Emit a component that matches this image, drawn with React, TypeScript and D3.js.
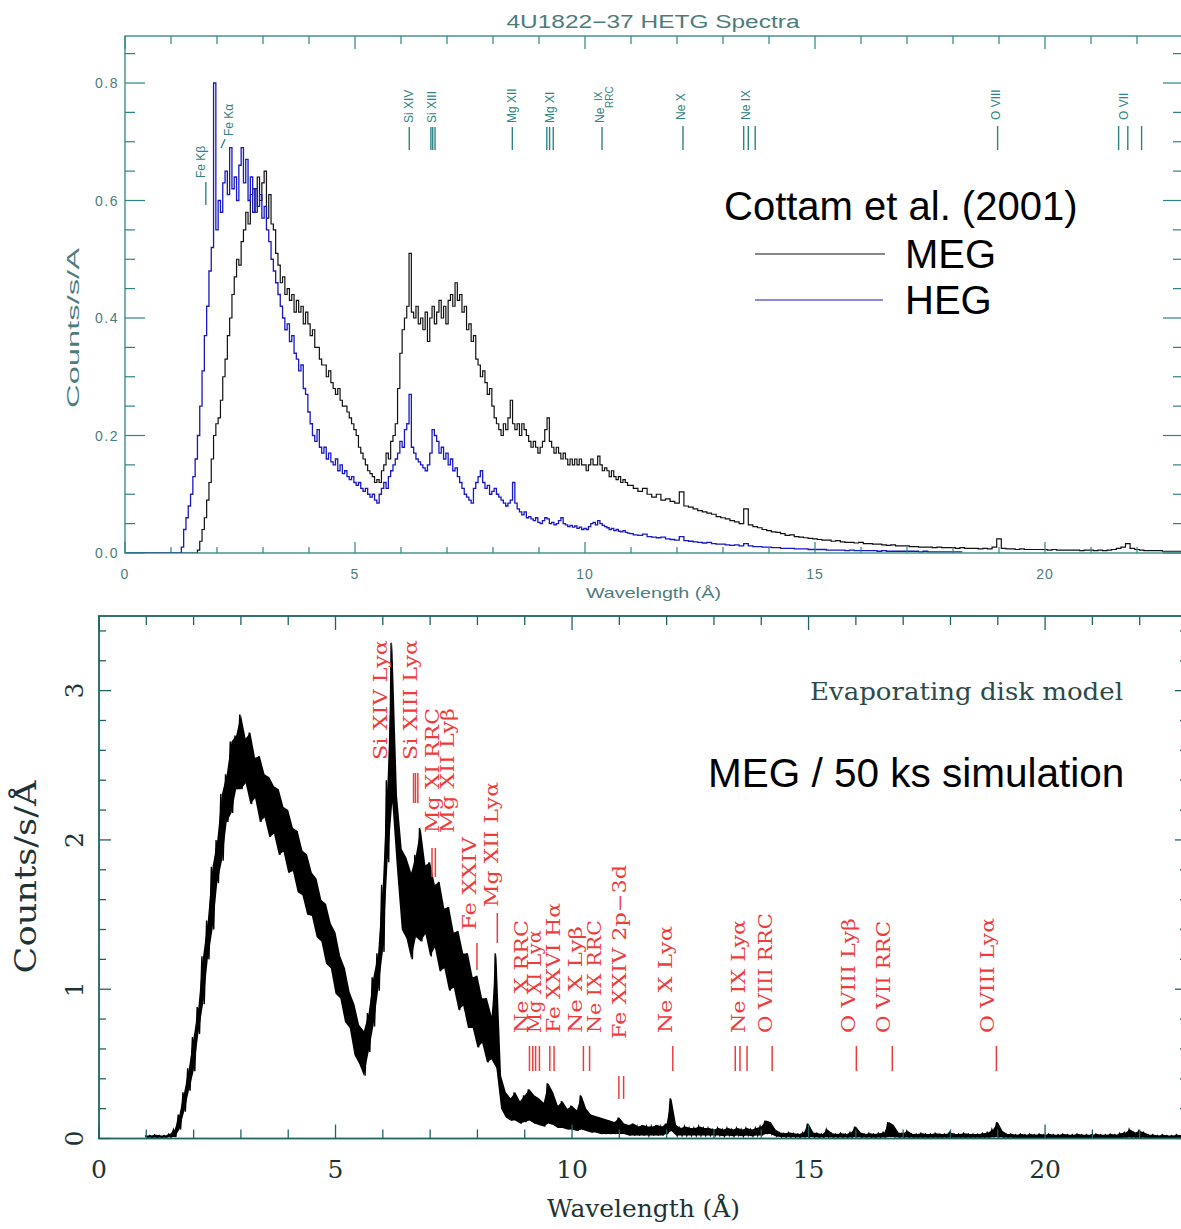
import React from "react";
import * as d3 from "d3";

// ---------- HETG spectra (upper panel) ----------
// Fine bins 1.00–10.95 Å (0.05 Å), coarse bins 11.0–23.0 Å (0.1 Å)
const FINE_START = 1.0;
const FINE_STEP = 0.05;
const TAIL_START = 11.0;
const TAIL_STEP = 0.1;

const megFine = [
  0, 0, 0, 0, 0, 0, 0, 0, 0, 0,
  0, 0, 0.005, 0.02, 0.04, 0.06, 0.09, 0.12, 0.16, 0.2,
  0.22, 0.23, 0.26, 0.3, 0.33, 0.37, 0.4, 0.44, 0.47, 0.5,
  0.49, 0.53, 0.55, 0.58, 0.56, 0.61, 0.62, 0.58, 0.64, 0.6,
  0.63, 0.65, 0.57, 0.61, 0.56, 0.55, 0.51, 0.49, 0.46, 0.47,
  0.44, 0.45, 0.43, 0.44, 0.41, 0.43, 0.41, 0.42, 0.39, 0.41,
  0.39, 0.37, 0.38, 0.35, 0.35, 0.33, 0.32, 0.32, 0.3, 0.31,
  0.29, 0.28, 0.27, 0.28, 0.26, 0.25, 0.25, 0.24, 0.23, 0.22,
  0.21, 0.2, 0.18, 0.17, 0.16, 0.15, 0.14, 0.135, 0.13, 0.12,
  0.125, 0.12, 0.14, 0.15, 0.17, 0.16, 0.19, 0.2, 0.22, 0.28,
  0.34, 0.38, 0.4, 0.42, 0.51, 0.41, 0.4, 0.42, 0.39, 0.4,
  0.38, 0.41, 0.36, 0.4, 0.42, 0.39, 0.41, 0.43, 0.4, 0.42,
  0.39, 0.43, 0.44, 0.42, 0.46, 0.43, 0.44, 0.41, 0.42, 0.38,
  0.39, 0.36, 0.37, 0.33, 0.32, 0.3, 0.31, 0.29, 0.27, 0.28,
  0.25, 0.23, 0.22, 0.21, 0.2, 0.22, 0.21, 0.23, 0.26, 0.22,
  0.21, 0.22, 0.2, 0.22, 0.21, 0.2, 0.19, 0.18, 0.19, 0.18,
  0.17, 0.18, 0.19, 0.21, 0.23, 0.19, 0.18, 0.17, 0.18, 0.17,
  0.16, 0.17, 0.16, 0.15, 0.16, 0.15, 0.16, 0.15, 0.16, 0.15,
  0.15, 0.14, 0.15, 0.16, 0.15, 0.15, 0.165, 0.15, 0.14, 0.145,
  0.14, 0.13, 0.14, 0.13, 0.125, 0.13, 0.12, 0.125, 0.12, 0.115,
];

const megTail = [
  0.115, 0.11, 0.105, 0.11, 0.1, 0.095, 0.1, 0.09, 0.092, 0.088,
  0.085, 0.104, 0.08, 0.078, 0.075, 0.072, 0.07, 0.068, 0.066, 0.062,
  0.06, 0.058, 0.055, 0.053, 0.05, 0.075, 0.048, 0.045, 0.043, 0.04,
  0.038, 0.036, 0.035, 0.033, 0.03, 0.031, 0.028, 0.027, 0.026, 0.025,
  0.024, 0.023, 0.022, 0.022, 0.02, 0.021, 0.019, 0.018, 0.018, 0.017,
  0.018, 0.016, 0.016, 0.015, 0.015, 0.014, 0.013, 0.014, 0.012, 0.012,
  0.012, 0.011, 0.011, 0.01, 0.01, 0.01, 0.009, 0.01, 0.009, 0.009,
  0.009, 0.008, 0.009, 0.008, 0.008, 0.008, 0.007, 0.008, 0.007, 0.01,
  0.024, 0.008, 0.007, 0.007, 0.006, 0.007, 0.006, 0.006, 0.006, 0.006,
  0.006, 0.005, 0.006, 0.005, 0.005, 0.005, 0.005, 0.005, 0.004, 0.005,
  0.005, 0.004, 0.005, 0.004, 0.005, 0.006, 0.008, 0.01, 0.016, 0.008,
  0.006, 0.005, 0.004, 0.004, 0.004, 0.004, 0.003, 0.003, 0.003, 0.003, 0.003,
];

const hegFine = [
  0, 0, 0, 0, 0, 0.01, 0.04, 0.06, 0.08, 0.1,
  0.13, 0.16, 0.2, 0.25, 0.31, 0.37, 0.42, 0.48, 0.52, 0.8,
  0.55, 0.6, 0.58, 0.63, 0.65, 0.61, 0.69, 0.62, 0.64, 0.6,
  0.66, 0.69, 0.63, 0.67, 0.6, 0.64, 0.58, 0.62, 0.59, 0.61,
  0.57, 0.59, 0.55, 0.53, 0.5, 0.48, 0.46, 0.44, 0.42, 0.4,
  0.38, 0.39, 0.36, 0.37, 0.34, 0.33, 0.31, 0.32, 0.28, 0.27,
  0.24, 0.22, 0.2, 0.19, 0.21, 0.18, 0.17, 0.18, 0.16, 0.17,
  0.155, 0.15, 0.16, 0.14, 0.15, 0.135, 0.14, 0.13, 0.125, 0.13,
  0.12, 0.115, 0.12, 0.11, 0.105, 0.11, 0.1, 0.095, 0.1, 0.09,
  0.085, 0.1, 0.11, 0.12, 0.11, 0.13, 0.14, 0.15, 0.16, 0.17,
  0.19, 0.18, 0.21, 0.22, 0.27, 0.18, 0.17, 0.16, 0.155, 0.15,
  0.145, 0.14, 0.15, 0.17, 0.21, 0.2, 0.19, 0.17, 0.18, 0.16,
  0.17, 0.15, 0.16, 0.14, 0.145, 0.13, 0.12, 0.11, 0.1, 0.095,
  0.09, 0.085, 0.11, 0.12, 0.13, 0.14, 0.12, 0.11, 0.115, 0.1,
  0.105, 0.11, 0.1, 0.095, 0.09, 0.085, 0.08, 0.085, 0.09, 0.12,
  0.085, 0.075, 0.07, 0.065, 0.07, 0.06, 0.062, 0.058, 0.055, 0.06,
  0.052, 0.05, 0.055, 0.06, 0.058, 0.05, 0.052, 0.048, 0.05, 0.055,
  0.06, 0.05, 0.048, 0.045, 0.047, 0.044, 0.046, 0.042, 0.044, 0.04,
  0.042, 0.04, 0.045, 0.05, 0.052, 0.048, 0.055, 0.05, 0.047, 0.045,
  0.043, 0.04, 0.042, 0.038, 0.04, 0.037, 0.036, 0.038, 0.035, 0.034,
];

const hegTail = [
  0.033, 0.031, 0.03, 0.032, 0.028, 0.027, 0.026, 0.027, 0.024, 0.023,
  0.022, 0.028, 0.021, 0.02, 0.019, 0.018, 0.017, 0.018, 0.016, 0.015,
  0.015, 0.014, 0.013, 0.014, 0.012, 0.016, 0.012, 0.011, 0.011, 0.01,
  0.01, 0.009, 0.009, 0.008, 0.008, 0.008, 0.007, 0.007, 0.007, 0.006,
  0.006, 0.006, 0.006, 0.005, 0.005, 0.005, 0.005, 0.004, 0.005, 0.004,
  0.004, 0.004, 0.004, 0.004, 0.003, 0.004, 0.003, 0.003, 0.003, 0.003,
  0.003, 0.003, 0.003, 0.002, 0.003, 0.002, 0.002, 0.002, 0.002, 0.002,
  0.002, 0.002, 0.002,
];

// Identified lines in the HETG panel (wavelengths in Å)
const hetgLines = [
  { name: "Fe Kβ", waves: [1.757] },
  { name: "Fe Kα", waves: [1.937] },
  { name: "Si XIV", waves: [6.18] },
  { name: "Si XIII", waves: [6.65, 6.69, 6.74] },
  { name: "Mg XII", waves: [8.42] },
  { name: "Mg XI", waves: [9.17, 9.23, 9.31] },
  { name: "Ne IX RRC", waves: [10.37] },
  { name: "Ne X", waves: [12.13] },
  { name: "Ne IX", waves: [13.45, 13.55, 13.7] },
  { name: "O VIII", waves: [18.97] },
  { name: "O VII", waves: [21.6, 21.8, 22.1] },
];

// ---------- Evaporating disk model, MEG 50 ks simulation (lower panel) ----------
// Per-bin noise envelope (upper / lower count rate), 1.0–23.0 Å in 0.1 Å bins
const SIM_START = 1.0;
const SIM_STEP = 0.1;

const simHigh = [
  0.02, 0.02, 0.025, 0.02, 0.02, 0.03, 0.06, 0.16, 0.31, 0.47,
  0.68, 0.88, 1.22, 1.46, 1.82, 2.0, 2.31, 2.44, 2.66, 2.7,
  2.84, 2.68, 2.72, 2.55, 2.56, 2.44, 2.42, 2.36, 2.34, 2.22,
  2.2, 2.08, 2.06, 1.93, 1.9, 1.78, 1.74, 1.6, 1.57, 1.44,
  1.38, 1.22, 1.14, 0.98, 0.9, 0.76, 0.72, 0.84, 1.08, 1.24,
  1.7, 2.4, 3.32, 2.3, 1.94, 1.88, 1.78, 1.9, 2.08, 1.83,
  1.85, 1.7, 1.72, 1.54, 1.55, 1.38, 1.39, 1.24, 1.24, 1.08,
  1.09, 0.94, 0.94, 0.82, 1.24, 0.42, 0.31, 0.27, 0.31, 0.25,
  0.29, 0.33, 0.29, 0.27, 0.24, 0.37, 0.31, 0.22, 0.25, 0.2,
  0.22, 0.19, 0.29, 0.2, 0.16, 0.15, 0.14, 0.13, 0.12, 0.11,
  0.14, 0.1, 0.09, 0.1, 0.08, 0.09, 0.08, 0.08, 0.09, 0.08,
  0.1, 0.27, 0.09, 0.07, 0.08, 0.07, 0.07, 0.08, 0.07, 0.07,
  0.06, 0.07, 0.06, 0.07, 0.06, 0.07, 0.06, 0.07, 0.06, 0.07,
  0.08, 0.12, 0.11, 0.06, 0.04, 0.035, 0.04, 0.035, 0.03, 0.04,
  0.1, 0.04, 0.035, 0.03, 0.06, 0.035, 0.03, 0.035, 0.03, 0.04,
  0.08, 0.04, 0.03, 0.035, 0.03, 0.035, 0.04, 0.11, 0.09, 0.04,
  0.035, 0.05, 0.03, 0.03, 0.035, 0.03, 0.03, 0.035, 0.03, 0.03,
  0.04, 0.03, 0.03, 0.035, 0.03, 0.03, 0.03, 0.035, 0.04, 0.06,
  0.11, 0.05, 0.03, 0.03, 0.025, 0.03, 0.025, 0.03, 0.025, 0.03,
  0.025, 0.03, 0.025, 0.025, 0.03, 0.025, 0.025, 0.03, 0.025, 0.025,
  0.025, 0.03, 0.025, 0.025, 0.03, 0.025, 0.035, 0.04, 0.06, 0.04,
  0.05, 0.04, 0.025, 0.025, 0.02, 0.025, 0.02, 0.02, 0.025, 0.02, 0.02,
];

const simLow = [
  0.005, 0.005, 0.005, 0.005, 0.005, 0.008, 0.01, 0.06, 0.18, 0.32,
  0.45, 0.7, 0.9, 1.2, 1.4, 1.71, 1.86, 2.12, 2.18, 2.34,
  2.34, 2.38, 2.24, 2.28, 2.12, 2.15, 2.02, 2.04, 1.9, 1.92,
  1.78, 1.79, 1.65, 1.63, 1.5, 1.49, 1.35, 1.32, 1.17, 1.14,
  0.97, 0.94, 0.78, 0.74, 0.56, 0.5, 0.42, 0.58, 0.75, 0.99,
  1.25, 1.85, 2.25, 1.8, 1.4, 1.34, 1.2, 1.35, 1.32, 1.37,
  1.22, 1.28, 1.12, 1.14, 0.99, 1.01, 0.86, 0.89, 0.74, 0.74,
  0.61, 0.64, 0.51, 0.53, 0.47, 0.2, 0.14, 0.12, 0.12, 0.1,
  0.11, 0.12, 0.1, 0.09, 0.08, 0.1, 0.09, 0.07, 0.07, 0.06,
  0.06, 0.05, 0.06, 0.05, 0.04, 0.04, 0.03, 0.03, 0.03, 0.03,
  0.03, 0.03, 0.02, 0.02, 0.02, 0.02, 0.02, 0.02, 0.02, 0.02,
  0.03, 0.05, 0.02, 0.02, 0.02, 0.02, 0.02, 0.02, 0.02, 0.02,
  0.02, 0.02, 0.015, 0.02, 0.015, 0.02, 0.015, 0.02, 0.015, 0.02,
  0.02, 0.03, 0.03, 0.015, 0.01, 0.008, 0.008, 0.008, 0.006, 0.008,
  0.01, 0.008, 0.006, 0.006, 0.008, 0.006, 0.006, 0.006, 0.006, 0.006,
  0.01, 0.006, 0.006, 0.006, 0.005, 0.006, 0.006, 0.01, 0.01, 0.006,
  0.006, 0.006, 0.005, 0.005, 0.005, 0.005, 0.005, 0.005, 0.005, 0.005,
  0.005, 0.005, 0.005, 0.005, 0.005, 0.005, 0.005, 0.005, 0.005, 0.008,
  0.01, 0.006, 0.005, 0.005, 0.004, 0.004, 0.004, 0.004, 0.004, 0.004,
  0.004, 0.004, 0.004, 0.004, 0.004, 0.004, 0.004, 0.004, 0.004, 0.004,
  0.004, 0.004, 0.004, 0.004, 0.004, 0.004, 0.004, 0.005, 0.006, 0.005,
  0.005, 0.005, 0.004, 0.004, 0.004, 0.004, 0.004, 0.004, 0.004, 0.004, 0.004,
];

// Identified lines in the model panel (wavelengths in Å)
const simLines = [
  { name: "Si XIV Lyα", waves: [6.18] },
  { name: "Si XIII Lyα", waves: [6.65, 6.69, 6.74] },
  { name: "Mg XI RRC", waves: [7.04] },
  { name: "Mg XII Lyβ", waves: [7.11] },
  { name: "Fe XXIV", waves: [7.99] },
  { name: "Mg XII Lyα", waves: [8.42] },
  { name: "Ne X RRC", waves: [9.1] },
  { name: "Mg XI Lyα", waves: [9.17, 9.23, 9.31] },
  { name: "Fe XXVI Hα", waves: [9.53, 9.62] },
  { name: "Ne X Lyβ", waves: [10.24] },
  { name: "Ne IX RRC", waves: [10.37] },
  { name: "Fe XXIV 2p−3d", waves: [10.99, 11.09] },
  { name: "Ne X Lyα", waves: [12.13] },
  { name: "Ne IX Lyα", waves: [13.45, 13.55, 13.7] },
  { name: "O VIII RRC", waves: [14.23] },
  { name: "O VIII Lyβ", waves: [16.01] },
  { name: "O VII RRC", waves: [16.77] },
  { name: "O VIII Lyα", waves: [18.97] },
];

const topXTicks = [0, 5, 10, 15, 20];
const topYTicks = [0, 0.2, 0.4, 0.6, 0.8];
const botXTicks = [0, 5, 10, 15, 20];
const botYTicks = [0, 1, 2, 3];

// ---------- layout ----------
const W = 1181;
const H = 1229;

// label placement: horizontal offset from the first line, text foot (y), tick span (y)
const hetgLabelLayout = [
  { dx: -5, foot: 178, tick: [182, 205] },
  { dx: 15, foot: 136, tick: [139, 148], slant: true },
  { dx: 0, foot: 123, tick: [127, 150] },
  { dx: 1, foot: 123, tick: [127, 150] },
  { dx: 0, foot: 123, tick: [127, 150] },
  { dx: 3, foot: 123, tick: [127, 150] },
  { dx: -2, foot: 123, tick: [127, 150], rrc: true },
  { dx: -2, foot: 120, tick: [126, 150] },
  { dx: 2, foot: 120, tick: [126, 150] },
  { dx: -2, foot: 120, tick: [126, 150] },
  { dx: 5, foot: 120, tick: [126, 150] },
];

// horizontal offset, text foot and head (y), tick span (y)
const simLabelLayout: { dx: number; foot: number; head: number; tick: number[] | null }[] = [
  { dx: -11, foot: 760, head: 640, tick: null },
  { dx: -3, foot: 760, head: 640, tick: [773, 803] },
  { dx: 0, foot: 833, head: 708, tick: [848, 877] },
  { dx: 12.5, foot: 833, head: 708, tick: [848, 877] },
  { dx: -7, foot: 930, head: 837, tick: [943, 970] },
  { dx: -6, foot: 907, head: 782, tick: [913, 943] },
  { dx: -7.5, foot: 1033, head: 920, tick: [1046, 1071] },
  { dx: 2, foot: 1033, head: 930, tick: [1046, 1071] },
  { dx: 4, foot: 1033, head: 903, tick: [1046, 1071] },
  { dx: -8, foot: 1033, head: 926, tick: [1046, 1071] },
  { dx: 4.5, foot: 1033, head: 920, tick: [1046, 1071] },
  { dx: 1, foot: 1039, head: 865, tick: [1076, 1099] },
  { dx: -7, foot: 1033, head: 926, tick: [1046, 1071] },
  { dx: 3, foot: 1033, head: 920, tick: [1046, 1071] },
  { dx: -7, foot: 1033, head: 913, tick: [1046, 1071] },
  { dx: -8, foot: 1033, head: 918, tick: [1046, 1071] },
  { dx: -9, foot: 1033, head: 921, tick: [1046, 1071] },
  { dx: -9, foot: 1033, head: 918, tick: [1046, 1071] },
];

const TEAL = "#2e8484";
const TEAL_TEXT = "#4d7c7c";
const SANS = "'Liberation Sans', Arial, sans-serif";
const SERIF = "'DejaVu Serif', serif";
const RED = "#ee3c3c";
const DARK = "#1e3434";

type Pt = { w: number; v: number };

function buildSeries(fine: number[], tail: number[]): Pt[] {
  const pts: Pt[] = [{ w: 0, v: 0 }];
  fine.forEach((v, i) => pts.push({ w: FINE_START + i * FINE_STEP, v }));
  tail.forEach((v, i) => pts.push({ w: TAIL_START + i * TAIL_STEP, v }));
  return pts;
}

function RotText(props: {
  x: number;
  y: number;
  text: string;
  size: number;
  fill: string;
  family: string;
  anchor?: string;
  length?: number;
  weight?: string;
}) {
  const { x, y, text, size, fill, family, anchor = "start", length, weight } = props;
  return (
    <text
      transform={`translate(${x},${y}) rotate(-90)`}
      fontSize={size}
      fill={fill}
      fontFamily={family}
      fontWeight={weight}
      textAnchor={anchor}
      dominantBaseline="central"
      textLength={length}
      lengthAdjust={length ? "spacingAndGlyphs" : undefined}
    >
      {text}
    </text>
  );
}

export default function App() {
  // scales
  const xTop = d3.scaleLinear().domain([0, 23]).range([125, 1183]);
  const yTop = d3.scaleLinear().domain([0, 0.88]).range([553, 36]);
  const xBot = d3.scaleLinear().domain([0, 23]).range([99, 1187]);
  const yBot = d3.scaleLinear().domain([0, 3.5]).range([1138.5, 616]);

  const meg = buildSeries(megFine, megTail);
  const heg = buildSeries(hegFine, hegTail);

  const stepLine = d3
    .line<Pt>()
    .x((d) => xTop(d.w))
    .y((d) => yTop(d.v))
    .curve(d3.curveStep);

  const simBins = simHigh.map((h, i) => ({
    w: SIM_START + i * SIM_STEP,
    hi: h,
    lo: simLow[i],
  }));
  const band = d3
    .area<{ w: number; hi: number; lo: number }>()
    .x((d) => xBot(d.w))
    .y0((d) => yBot(d.lo))
    .y1((d) => yBot(d.hi));
  const zigPts: [number, number][] = [];
  simBins.forEach((b) => {
    zigPts.push([xBot(b.w - SIM_STEP / 4), yBot(b.hi)]);
    zigPts.push([xBot(b.w + SIM_STEP / 4), yBot(b.lo)]);
  });
  const zigLine = d3.line()(zigPts) || "";

  // tick grids
  const topMinorX = d3.range(0, 24, 1);
  const topMinorY = d3.range(0, 0.876, 0.05);
  const botMinorX = d3.range(0, 24, 1);
  const botMinorY = d3.range(0, 3.51, 0.2);

  const [tx0, tx1] = xTop.range();
  const [ty0, ty1] = yTop.range();
  const [bx0, bx1] = xBot.range();
  const [by0, by1] = yBot.range();

  return (
    <svg
      width={W}
      height={H}
      viewBox={`0 0 ${W} ${H}`}
      style={{ position: "absolute", left: 0, top: 0, background: "#fff" }}
    >
      <defs>
        <clipPath id="clipTop">
          <rect x={tx0} y={ty1} width={tx1 - tx0} height={ty0 - ty1} />
        </clipPath>
        <clipPath id="clipBot">
          <rect x={bx0} y={by1} width={bx1 - bx0} height={by0 - by1} />
        </clipPath>
      </defs>

      {/* ================= upper panel ================= */}
      <text
        x={653}
        y={28}
        fontSize={18}
        fill={TEAL_TEXT}
        fontFamily={SANS}
        textAnchor="middle"
        textLength={293}
        lengthAdjust="spacingAndGlyphs"
      >
        4U1822−37 HETG Spectra
      </text>

      <g clipPath="url(#clipTop)">
        <path d={stepLine(meg) || ""} fill="none" stroke="#111" strokeWidth={1.2} />
        <path d={stepLine(heg) || ""} fill="none" stroke="#1818c4" strokeWidth={1.3} />
      </g>

      <rect
        x={tx0}
        y={ty1}
        width={tx1 - tx0}
        height={ty0 - ty1}
        fill="none"
        stroke={TEAL}
        strokeWidth={1.3}
      />
      {topMinorX.map((w) => {
        const major = w % 5 === 0;
        const x = xTop(w);
        return (
          <g key={`tx${w}`} stroke={TEAL} strokeWidth={1.2}>
            <line x1={x} x2={x} y1={ty0} y2={ty0 - (major ? 11 : 6)} />
            <line x1={x} x2={x} y1={ty1} y2={ty1 + (major ? 13 : 8)} />
          </g>
        );
      })}
      {topMinorY.map((v, i) => {
        const major = i % 4 === 0;
        const y = yTop(v);
        return (
          <g key={`ty${i}`} stroke={TEAL} strokeWidth={1.2}>
            <line x1={tx0} x2={tx0 + (major ? 20 : 10)} y1={y} y2={y} />
            <line x1={tx1} x2={tx1 - (major ? 20 : 10)} y1={y} y2={y} />
          </g>
        );
      })}
      {topXTicks.map((w) => (
        <text
          key={`txl${w}`}
          x={xTop(w)}
          y={579}
          fontSize={14}
          fill={TEAL_TEXT}
          fontFamily={SANS}
          textAnchor="middle"
          letterSpacing={1}
        >
          {w}
        </text>
      ))}
      {topYTicks.map((v) => (
        <text
          key={`tyl${v}`}
          x={119}
          y={yTop(v) + 5}
          fontSize={14}
          fill={TEAL_TEXT}
          fontFamily={SANS}
          textAnchor="end"
          letterSpacing={1.5}
        >
          {v.toFixed(1)}
        </text>
      ))}
      <text
        x={586}
        y={598}
        fontSize={15}
        fill={TEAL_TEXT}
        fontFamily={SANS}
        textLength={135}
        lengthAdjust="spacingAndGlyphs"
      >
        Wavelength (Å)
      </text>
      <RotText
        x={73}
        y={328}
        text="Counts/s/A"
        size={16}
        fill={TEAL_TEXT}
        family={SANS}
        anchor="middle"
        length={160}
      />

      {/* line identifications, HETG */}
      {hetgLines.map((ln, i) => {
        const lay = hetgLabelLayout[i];
        const x0 = xTop(ln.waves[0]);
        const tx = x0 + lay.dx;
        return (
          <g key={`hl${i}`}>
            {lay.rrc ? (
              <g>
                <RotText x={tx} y={lay.foot} text="Ne" size={12} fill={TEAL} family={SANS} />
                <RotText x={tx - 2} y={101} text="IX" size={10} fill={TEAL} family={SANS} />
                <RotText x={tx + 9} y={108} text="RRC" size={10} fill={TEAL} family={SANS} />
              </g>
            ) : (
              <RotText x={tx} y={lay.foot} text={ln.name} size={12} fill={TEAL} family={SANS} />
            )}
            {lay.slant ? (
              <line
                x1={x0 + 7}
                y1={lay.tick[1]}
                x2={x0 + 11}
                y2={lay.tick[0]}
                stroke={TEAL}
                strokeWidth={1.3}
              />
            ) : (
              ln.waves.map((w, j) => (
                <line
                  key={j}
                  x1={xTop(w)}
                  x2={xTop(w)}
                  y1={lay.tick[0]}
                  y2={lay.tick[1]}
                  stroke={TEAL}
                  strokeWidth={1.4}
                />
              ))
            )}
          </g>
        );
      })}

      {/* legend */}
      <text x={724} y={220} fontSize={40} fontFamily={SANS} fill="#000">
        Cottam et al. (2001)
      </text>
      <line x1={755} x2={885} y1={254} y2={254} stroke="#111" strokeWidth={1.2} />
      <text x={905} y={268} fontSize={40} fontFamily={SANS} fill="#000">
        MEG
      </text>
      <line x1={755} x2={883} y1={300} y2={300} stroke="#1818c4" strokeWidth={1.2} />
      <text x={905} y={314} fontSize={40} fontFamily={SANS} fill="#000">
        HEG
      </text>

      {/* ================= lower panel ================= */}
      <g clipPath="url(#clipBot)">
        <path d={band(simBins) || ""} fill="#000" />
        <path d={zigLine} fill="none" stroke="#000" strokeWidth={1.4} />
      </g>

      <rect
        x={bx0}
        y={by1}
        width={bx1 - bx0}
        height={by0 - by1}
        fill="none"
        stroke="#1f6464"
        strokeWidth={1.8}
      />
      {botMinorX.map((w) => {
        const major = w % 5 === 0;
        const x = xBot(w);
        return (
          <g key={`bx${w}`} stroke="#1f6464" strokeWidth={1.3}>
            <line x1={x} x2={x} y1={by0} y2={by0 - (major ? 14 : 9)} />
            <line x1={x} x2={x} y1={by1} y2={by1 + (major ? 14 : 9)} />
          </g>
        );
      })}
      {botMinorY.map((v, i) => {
        const major = i % 5 === 0;
        const y = yBot(v);
        return (
          <g key={`by${i}`} stroke="#1f6464" strokeWidth={1.3}>
            <line x1={bx0} x2={bx0 + (major ? 12 : 7)} y1={y} y2={y} />
            <line x1={bx1} x2={bx1 - (major ? 12 : 7)} y1={y} y2={y} />
          </g>
        );
      })}
      {botXTicks.map((w) => (
        <text
          key={`bxl${w}`}
          x={xBot(w)}
          y={1178}
          fontSize={25}
          fill={DARK}
          fontFamily={SERIF}
          textAnchor="middle"
        >
          {w}
        </text>
      ))}
      {botYTicks.map((v) => (
        <RotText
          key={`byl${v}`}
          x={74}
          y={yBot(v)}
          text={String(v)}
          size={25}
          fill={DARK}
          family={SERIF}
          anchor="middle"
        />
      ))}
      <text
        x={547}
        y={1217}
        fontSize={25}
        fill={DARK}
        fontFamily={SERIF}
        textLength={193}
        lengthAdjust="spacingAndGlyphs"
      >
        Wavelength (Å)
      </text>
      <RotText
        x={25}
        y={877}
        text="Counts/s/Å"
        size={30}
        fill={DARK}
        family={SERIF}
        anchor="middle"
        length={193}
      />

      {/* line identifications, model */}
      {simLines.map((ln, i) => {
        const lay = simLabelLayout[i];
        const x0 = xBot(ln.waves[0]);
        return (
          <g key={`sl${i}`}>
            <RotText
              x={x0 + lay.dx}
              y={lay.foot}
              text={ln.name}
              size={18}
              fill={RED}
              family={SERIF}
              length={lay.foot - lay.head}
            />
            {lay.tick &&
              ln.waves.map((w, j) => (
                <line
                  key={j}
                  x1={xBot(w)}
                  x2={xBot(w)}
                  y1={lay.tick![0]}
                  y2={lay.tick![1]}
                  stroke={RED}
                  strokeWidth={1.5}
                />
              ))}
          </g>
        );
      })}

      <text
        x={810}
        y={700}
        fontSize={25}
        fill="#2c4a4a"
        fontFamily={SERIF}
        textLength={313}
        lengthAdjust="spacingAndGlyphs"
      >
        Evaporating disk model
      </text>
      <text x={708} y={787} fontSize={40.5} fontFamily={SANS} fill="#000">
        MEG / 50 ks simulation
      </text>
    </svg>
  );
}
